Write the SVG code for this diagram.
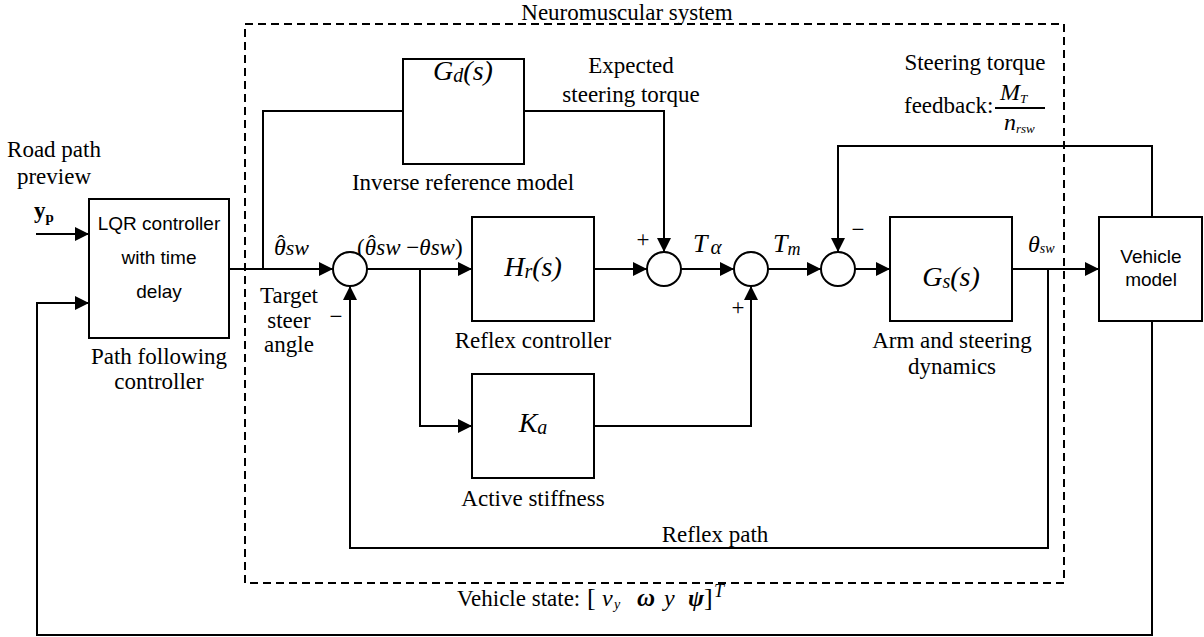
<svg xmlns="http://www.w3.org/2000/svg" width="1204" height="637" viewBox="0 0 1204 637">
<defs>
<style>
.box{fill:#fff;stroke:#000;stroke-width:2}
.sum{fill:#fff;stroke:#000;stroke-width:2}
.ln{fill:none;stroke:#000;stroke-width:2}
.dash{fill:none;stroke:#000;stroke-width:2;stroke-dasharray:8 5}
.t{font-family:"Liberation Serif","Times New Roman",serif;font-size:23px;fill:#000}
.a{font-family:"Liberation Sans",Arial,sans-serif;font-size:19px;fill:#000}
.m{font-family:"Liberation Serif","Times New Roman",serif;font-style:italic;fill:#000}
.r{font-family:"Liberation Serif","Times New Roman",serif;font-style:normal;fill:#000}
</style>
<marker id="ar" markerUnits="userSpaceOnUse" markerWidth="14" markerHeight="14" refX="14" refY="7" orient="auto">
<path d="M0,0 L14,7 L0,14 z" fill="#000"/>
</marker>
</defs>
<rect width="1204" height="637" fill="#fff"/>

<g id="neuromuscular-boundary">
<rect class="dash" x="245" y="24" width="819" height="559"/>
<text class="t" x="627" y="20" font-size="26.5" text-anchor="middle">Neuromuscular system</text>
</g>

<g id="connectors">
<path class="ln" d="M36,234 H89" marker-end="url(#ar)"/>
<path class="ln" d="M1152,321 V635 H37 V303 H89" marker-end="url(#ar)"/>
<path class="ln" d="M229,269 H333" marker-end="url(#ar)"/>
<path class="ln" d="M263,269 V111 H403"/>
<path class="ln" d="M524,111 H664 V252" marker-end="url(#ar)"/>
<path class="ln" d="M367,269 H472" marker-end="url(#ar)"/>
<path class="ln" d="M420,269 V426 H472" marker-end="url(#ar)"/>
<path class="ln" d="M594,269 H647" marker-end="url(#ar)"/>
<path class="ln" d="M681,269 H734" marker-end="url(#ar)"/>
<path class="ln" d="M768,269 H821" marker-end="url(#ar)"/>
<path class="ln" d="M594,426 H751 V286" marker-end="url(#ar)"/>
<path class="ln" d="M855,269 H890" marker-end="url(#ar)"/>
<path class="ln" d="M1012,269 H1099" marker-end="url(#ar)"/>
<path class="ln" d="M1048,269 V548 H350 V286" marker-end="url(#ar)"/>
<path class="ln" d="M1152,217 V146 H838 V252" marker-end="url(#ar)"/>
</g>

<g id="labels">
<text class="t" x="54" y="157" text-anchor="middle">Road path</text>
<text class="t" x="54" y="184" text-anchor="middle">preview</text>
<text x="34" y="218" font-family="Liberation Serif,serif" font-weight="bold" font-size="23" fill="#000">y<tspan font-size="15" dy="4">p</tspan></text>
<text class="m" x="274" y="255" font-size="24">θ<tspan class="r" font-size="22" dx="-8.5" dy="-5">ˆ</tspan><tspan font-size="22" dx="1" dy="5">sw</tspan></text>
<text class="m" x="357" y="255" font-size="23"><tspan class="r">(</tspan>θ<tspan class="r" font-size="22" dx="-8" dy="-5">ˆ</tspan><tspan dx="1" dy="5">sw </tspan><tspan class="r">−</tspan>θsw<tspan class="r">)</tspan></text>
<text class="t" x="289" y="303" text-anchor="middle">Target</text>
<text class="t" x="289" y="328" text-anchor="middle">steer</text>
<text class="t" x="289" y="352" text-anchor="middle">angle</text>
<text class="t" x="336" y="324" text-anchor="middle">−</text>
<text class="t" x="631" y="73" text-anchor="middle">Expected</text>
<text class="t" x="631" y="102" text-anchor="middle">steering torque</text>
<text class="t" x="643" y="247" text-anchor="middle">+</text>
<text class="m" x="693" y="252" font-size="26">T<tspan font-size="21" dx="3" dy="2">α</tspan></text>
<text class="m" x="773" y="252" font-size="26">T<tspan font-size="18" dy="3">m</tspan></text>
<text class="t" x="738" y="315" text-anchor="middle">+</text>
<text class="t" x="858" y="237" text-anchor="middle">−</text>
<text class="m" x="1028" y="252" font-size="24">θ<tspan font-size="14" dy="1">sw</tspan></text>
<text class="t" x="975" y="70" text-anchor="middle">Steering torque</text>
<text class="t" x="904" y="113">feedback:</text>
<text class="m" x="1000" y="100" font-size="24">M<tspan font-size="13" dy="3">T</tspan></text>
<line class="ln" x1="995" y1="108" x2="1045" y2="108" stroke-width="1.5"/>
<text class="m" x="1004" y="130" font-size="24">n<tspan font-size="13" dy="3">rsw</tspan></text>
<text class="t" x="715" y="542" text-anchor="middle">Reflex path</text>
<text class="t" x="457" y="606">Vehicle state: <tspan x="587" font-size="26">[</tspan><tspan class="m" x="602" font-size="24">v</tspan><tspan class="m" x="614" font-size="14" dy="3">y</tspan><tspan class="m" x="637" dy="-3" font-size="25" font-weight="bold">ω</tspan><tspan class="m" x="664" font-size="24">y</tspan><tspan class="m" x="688" font-size="24" font-weight="bold">ψ</tspan><tspan x="704" font-size="26">]</tspan><tspan class="m" x="714" font-size="18" dy="-9">T</tspan></text>
</g>

<g id="lqr">
<rect class="box" x="89" y="199" width="140" height="139"/>
<text class="a" x="159" y="230" text-anchor="middle">LQR controller</text>
<text class="a" x="159" y="264" text-anchor="middle">with time</text>
<text class="a" x="159" y="298" text-anchor="middle">delay</text>
<text class="t" x="159" y="364" text-anchor="middle">Path following</text>
<text class="t" x="159" y="389" text-anchor="middle">controller</text>
</g>

<g id="gd">
<rect class="box" x="403" y="59" width="121" height="105"/>
<text class="m" x="463" y="80" font-size="28" text-anchor="middle">G<tspan font-size="20" dy="2">d</tspan><tspan dy="-2">(s)</tspan></text>
<text class="t" x="463" y="190" text-anchor="middle">Inverse reference model</text>
</g>

<g id="sum1"><circle class="sum" cx="350" cy="269" r="17"/></g>
<g id="sum2"><circle class="sum" cx="664" cy="269" r="17"/></g>
<g id="sum3"><circle class="sum" cx="751" cy="269" r="17"/></g>
<g id="sum4"><circle class="sum" cx="838" cy="269" r="17"/></g>

<g id="hr">
<rect class="box" x="472" y="217" width="122" height="104"/>
<text class="m" x="533" y="276" font-size="28" text-anchor="middle">H<tspan font-size="20" dy="2">r</tspan><tspan dy="-2">(s)</tspan></text>
<text class="t" x="533" y="348" text-anchor="middle">Reflex controller</text>
</g>

<g id="ka">
<rect class="box" x="472" y="374" width="122" height="104"/>
<text class="m" x="533" y="432" font-size="28" text-anchor="middle">K<tspan font-size="20" dy="2">a</tspan></text>
<text class="t" x="533" y="506" text-anchor="middle">Active stiffness</text>
</g>

<g id="gs">
<rect class="box" x="890" y="217" width="122" height="104"/>
<text class="m" x="951" y="286" font-size="28" text-anchor="middle">G<tspan font-size="20" dy="2">s</tspan><tspan dy="-2">(s)</tspan></text>
<text class="t" x="952" y="348" text-anchor="middle">Arm and steering</text>
<text class="t" x="952" y="374" text-anchor="middle">dynamics</text>
</g>

<g id="vehicle">
<rect class="box" x="1099" y="217" width="103" height="104"/>
<text class="a" x="1151" y="263" text-anchor="middle">Vehicle</text>
<text class="a" x="1151" y="286" text-anchor="middle">model</text>
</g>
</svg>
